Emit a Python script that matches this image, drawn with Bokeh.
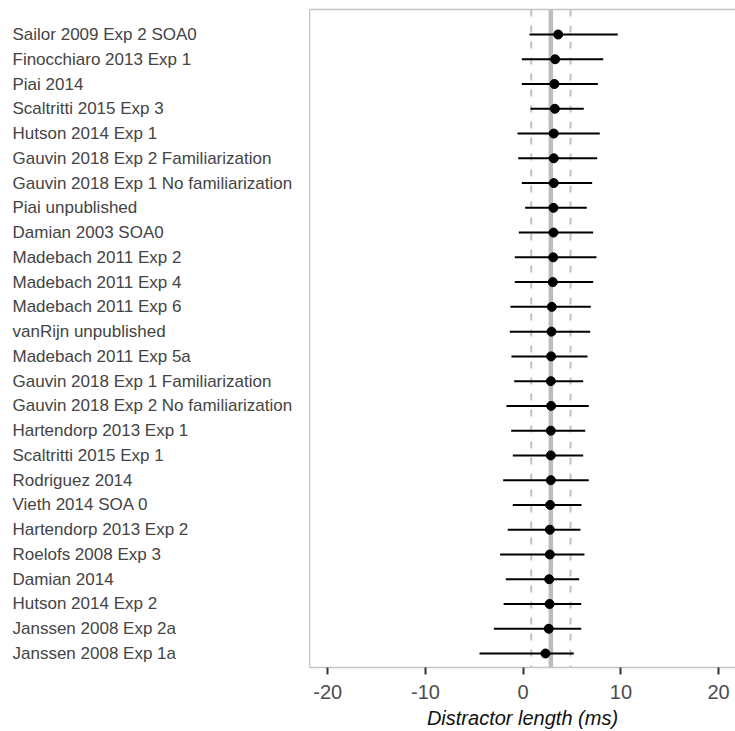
from bokeh.plotting import figure
from bokeh.layouts import row
from bokeh.models import ColumnDataSource, Span, LinearAxis, FixedTicker, Range1d
from bokeh.core.properties import value
from bokeh.embed import file_html
from bokeh.resources import INLINE

studies = [
    "Sailor 2009 Exp 2 SOA0",
    "Finocchiaro 2013 Exp 1",
    "Piai 2014",
    "Scaltritti 2015 Exp 3",
    "Hutson 2014 Exp 1",
    "Gauvin 2018 Exp 2 Familiarization",
    "Gauvin 2018 Exp 1 No familiarization",
    "Piai unpublished",
    "Damian 2003 SOA0",
    "Madebach 2011 Exp 2",
    "Madebach 2011 Exp 4",
    "Madebach 2011 Exp 6",
    "vanRijn unpublished",
    "Madebach 2011 Exp 5a",
    "Gauvin 2018 Exp 1 Familiarization",
    "Gauvin 2018 Exp 2 No familiarization",
    "Hartendorp 2013 Exp 1",
    "Scaltritti 2015 Exp 1",
    "Rodriguez 2014",
    "Vieth 2014 SOA 0",
    "Hartendorp 2013 Exp 2",
    "Roelofs 2008 Exp 3",
    "Damian 2014",
    "Hutson 2014 Exp 2",
    "Janssen 2008 Exp 2a",
    "Janssen 2008 Exp 1a",
]
estimate = [3.58, 3.27, 3.20, 3.24, 3.13, 3.13, 3.13, 3.10, 3.10, 3.07, 3.03, 2.93, 2.90,
            2.86, 2.83, 2.86, 2.83, 2.83, 2.83, 2.76, 2.73, 2.73, 2.66, 2.70, 2.62, 2.28]
ci_low = [0.65, -0.14, -0.14, 0.75, -0.58, -0.51, -0.14, 0.20, -0.45, -0.86, -0.86, -1.30, -1.37,
          -1.20, -0.92, -1.71, -1.23, -1.06, -2.05, -1.06, -1.58, -2.36, -1.78, -2.00, -3.00, -4.47]
ci_high = [9.68, 8.19, 7.64, 6.20, 7.84, 7.57, 7.06, 6.51, 7.16, 7.50, 7.16, 6.92, 6.86,
           6.58, 6.14, 6.71, 6.35, 6.14, 6.71, 5.97, 5.86, 6.27, 5.73, 5.94, 5.94, 5.18]
pooled_estimate = 2.83
pooled_ci_low = 0.82
pooled_ci_high = 4.85
x_ticks = [-20, -10, 0, 10, 20]
x_tick_labels = ["-20", "-10", "0", "10", "20"]

n = len(studies)
row_pos = [n - i for i in range(n)]

src = ColumnDataSource(dict(study=studies, est=estimate, lo=ci_low, hi=ci_high, y=row_pos))
y_range = Range1d(0.435, n + 1.01)

TOP = 9
BOTTOM = 63
H = 731

# ---- label panel ----
lp = figure(width=309, height=H, output_backend="svg", toolbar_location=None,
            x_range=Range1d(0, 1), y_range=y_range,
            x_axis_location=None, y_axis_location=None,
            min_border_left=0, min_border_right=0, min_border_top=TOP, min_border_bottom=BOTTOM)
lp.outline_line_color = None
lp.grid.visible = False
lp.text(x=0, y="y", text="study", source=src, x_offset=12,
        text_align="left", text_baseline="middle", text_font=value("Liberation Sans"),
        text_font_size="17px", text_color="#444444")

# ---- plot panel ----
p = figure(width=735 - 309, height=H, output_backend="svg", toolbar_location=None,
           x_range=Range1d(-21.87, 21.73), y_range=y_range,
           min_border_left=0, min_border_right=0, min_border_top=TOP, min_border_bottom=BOTTOM)
p.outline_line_color = None
p.xgrid.visible = False
p.ygrid.visible = False

ya = p.yaxis[0]
ya.ticker = FixedTicker(ticks=[])
ya.major_tick_line_color = None
ya.minor_tick_line_color = None
ya.axis_line_color = "#c4c4c4"
ya.axis_line_width = 1.5
ya.major_label_standoff = 0

top_axis = LinearAxis(ticker=FixedTicker(ticks=[]), major_tick_line_color=None,
                      minor_tick_line_color=None, axis_line_color="#c4c4c4", axis_line_width=1.5,
                      major_label_standoff=0)
p.add_layout(top_axis, "above")

xa = p.below[0]
xa.ticker = FixedTicker(ticks=x_ticks)
xa.major_label_overrides = {t: s for t, s in zip(x_ticks, x_tick_labels)}
xa.axis_line_color = "#c4c4c4"
xa.axis_line_width = 1.5
xa.major_tick_line_color = "#333333"
xa.major_tick_line_width = 2
xa.major_tick_in = 0
xa.major_tick_out = 7
xa.minor_tick_line_color = None
xa.major_label_text_font = "Liberation Sans"
xa.major_label_text_font_size = "20px"
xa.major_label_text_color = "#4d4d4d"
xa.major_label_standoff = 10
xa.axis_label = "Distractor length (ms)"
xa.axis_label_text_font = "Liberation Sans"
xa.axis_label_text_font_size = "20px"
xa.axis_label_text_font_style = "italic"
xa.axis_label_text_color = "#111111"
xa.axis_label_standoff = 5

p.add_layout(Span(location=pooled_estimate, dimension="height", line_color="#bdbdbd",
                  line_width=4.5, level="underlay"))
for loc in (pooled_ci_low, pooled_ci_high):
    p.add_layout(Span(location=loc, dimension="height", line_color="#c2c2c2", line_width=2,
                      line_dash="7 9", level="underlay"))

p.segment(x0="lo", x1="hi", y0="y", y1="y", source=src, line_color="black", line_width=2)
p.scatter(x="est", y="y", source=src, size=9, fill_color="black", line_color="black")

layout = row(lp, p, spacing=0)
open("out.html", "w").write(file_html(layout, INLINE))
